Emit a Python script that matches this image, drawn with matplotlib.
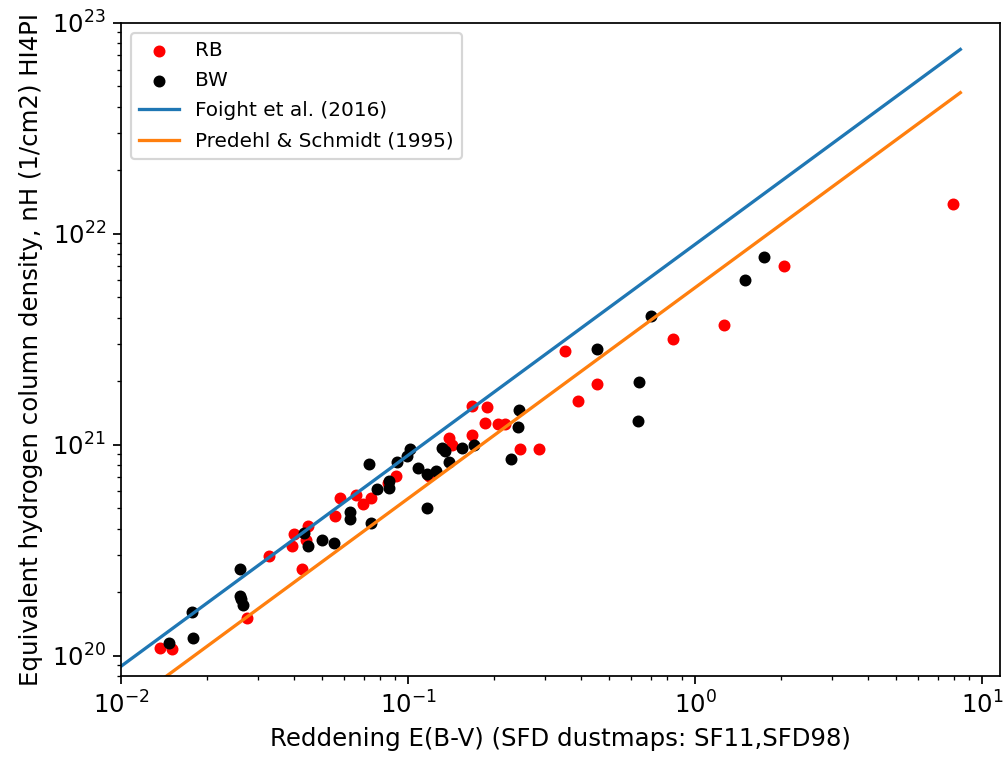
import matplotlib
matplotlib.use('Agg')
import matplotlib.pyplot as plt
import numpy as np

# reddening E(B-V) and nH values
rb_ebv = [0.0137, 0.0151, 0.0275, 0.0328, 0.0428, 0.0394, 0.0401, 0.0441, 0.0448,
          0.0557, 0.0580, 0.0659, 0.0697, 0.0743, 0.0908, 0.0851, 0.1184, 0.139,
          0.1423, 0.167, 0.167, 0.1885, 0.1855, 0.206, 0.2178, 0.2455, 0.286,
          0.3524, 0.391, 0.4556, 0.838, 1.262, 2.042, 7.93]
rb_nh = [1.09e20, 1.08e20, 1.50e20, 2.98e20, 2.56e20, 3.29e20, 3.75e20, 3.55e20, 4.13e20,
         4.61e20, 5.61e20, 5.79e20, 5.25e20, 5.61e20, 7.13e20, 6.6e20, 7.13e20, 1.08e21,
         1.0e21, 1.53e21, 1.115e21, 1.50e21, 1.27e21, 1.258e21, 1.258e21, 9.57e20, 9.57e20,
         2.79e21, 1.616e21, 1.946e21, 3.18e21, 3.70e21, 7.05e21, 1.387e22]

bw_ebv = [0.0147, 0.0177, 0.0178, 0.026, 0.026, 0.0262, 0.0266, 0.0434, 0.0448,
          0.0502, 0.0552, 0.0628, 0.0628, 0.0731, 0.0743, 0.078, 0.0859, 0.0859,
          0.0915, 0.0992, 0.1016, 0.1083, 0.1165, 0.1252, 0.1165, 0.1314, 0.1346,
          0.139, 0.1543, 0.1698, 0.2285, 0.2417, 0.2437, 0.4556, 0.638, 0.633,
          0.7025, 1.494, 1.74]
bw_nh = [1.152e20, 1.616e20, 1.217e20, 2.585e20, 1.925e20, 1.863e20, 1.745e20, 3.83e20, 3.32e20,
         3.55e20, 3.43e20, 4.81e20, 4.46e20, 8.13e20, 4.27e20, 6.19e20, 6.75e20, 6.25e20,
         8.31e20, 8.87e20, 9.57e20, 7.78e20, 7.29e20, 7.53e20, 5.03e20, 9.68e20, 9.37e20,
         8.31e20, 9.68e20, 1.0e21, 8.58e20, 1.217e21, 1.465e21, 2.85e21, 1.989e21, 1.30e21,
         4.09e21, 6.05e21, 7.78e21]

# nH = k * Av, Av = 3.1 E(B-V)
R_V = 3.1
k_foight = 2.87e21
k_predehl = 1.79e21
line_ebv = np.array([0.008, 8.4])

fig = plt.figure(figsize=(6.4, 4.835), dpi=157.2)
plt.subplots_adjust(left=0.1203, right=0.994, top=0.970, bottom=0.1105)

plt.scatter(rb_ebv, rb_nh, c='red', s=20, label='RB')
plt.scatter(bw_ebv, bw_nh, c='black', s=20, label='BW')
plt.plot(line_ebv, k_foight * R_V * line_ebv, label='Foight et al. (2016)')
plt.plot(line_ebv, k_predehl * R_V * line_ebv, label='Predehl & Schmidt (1995)')

plt.xscale('log')
plt.yscale('log')
plt.xlim(0.01, 11.55)
plt.ylim(8e19, 1e23)
plt.tick_params(axis='both', which='major', labelsize=11.2)
plt.xlabel('Reddening E(B-V) (SFD dustmaps: SF11,SFD98)', fontsize=11.2)
plt.ylabel('Equivalent hydrogen column density, nH (1/cm2) HI4PI', fontsize=11.2)
plt.legend(loc='upper left', fontsize=9.2, labelspacing=0.56)

plt.savefig('out.png', dpi=157.2)
